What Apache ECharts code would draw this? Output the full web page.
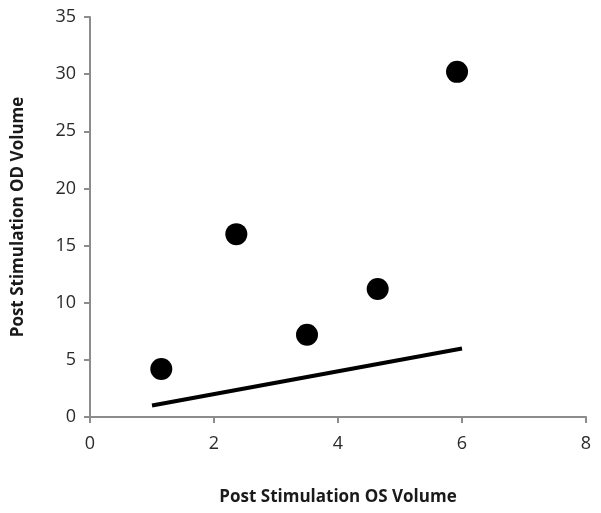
<!DOCTYPE html>
<html>
<head>
<meta charset="utf-8">
<script src="https://cdn.jsdelivr.net/npm/echarts@6/dist/echarts.min.js"></script>
<style>
html, body { margin: 0; padding: 0; background: #fff; }
#chart { width: 601px; height: 513px; }
</style>
</head>
<body>
<div id="chart"></div>
<script>
// measured volumes (OS vs OD)
var osVolume = [1.15, 2.36, 3.5, 4.64, 5.92];
var odVolume = [4.2, 16.0, 7.2, 11.2, 30.2];
// identity reference line
var lineX = [1, 6];
var lineY = [1, 6];

var pts = osVolume.map(function (x, i) { return [x, odVolume[i]]; });
var linePts = lineX.map(function (x, i) { return [x, lineY[i]]; });

var font = '"Open Sans", "Liberation Sans", sans-serif';
var axisCol = '#8c8c8c';

var chart = echarts.init(document.getElementById('chart'));
chart.setOption({
    animation: false,
    grid: { left: 90, right: 15, top: 17, bottom: 96 },
    xAxis: {
        type: 'value', min: 0, max: 8, interval: 2,
        name: 'Post Stimulation OS Volume',
        nameLocation: 'middle', nameGap: 72,
        nameTextStyle: { fontFamily: font, fontSize: 17, fontWeight: 'bold', color: '#1a1a1a' },
        axisLine: { show: true, lineStyle: { color: axisCol, width: 2 } },
        axisTick: { show: true, length: 6, lineStyle: { color: axisCol, width: 2 } },
        axisLabel: { fontFamily: font, fontSize: 18, color: '#2a2a2a', margin: 18 },
        splitLine: { show: false }
    },
    yAxis: {
        type: 'value', min: 0, max: 35, interval: 5,
        name: 'Post Stimulation OD Volume',
        nameLocation: 'middle', nameGap: 63,
        nameTextStyle: { fontFamily: font, fontSize: 17, fontWeight: 'bold', color: '#1a1a1a' },
        axisLine: { show: true, lineStyle: { color: axisCol, width: 2 } },
        axisTick: { show: true, length: 6, lineStyle: { color: axisCol, width: 2 } },
        axisLabel: { fontFamily: font, fontSize: 18, color: '#2a2a2a', margin: 14 },
        splitLine: { show: false }
    },
    series: [
        {
            type: 'line', data: linePts, symbol: 'none',
            lineStyle: { color: '#000', width: 4 }
        },
        {
            type: 'scatter', data: pts, symbolSize: 22,
            itemStyle: { color: '#000', opacity: 1 }
        }
    ]
});
</script>
</body>
</html>
